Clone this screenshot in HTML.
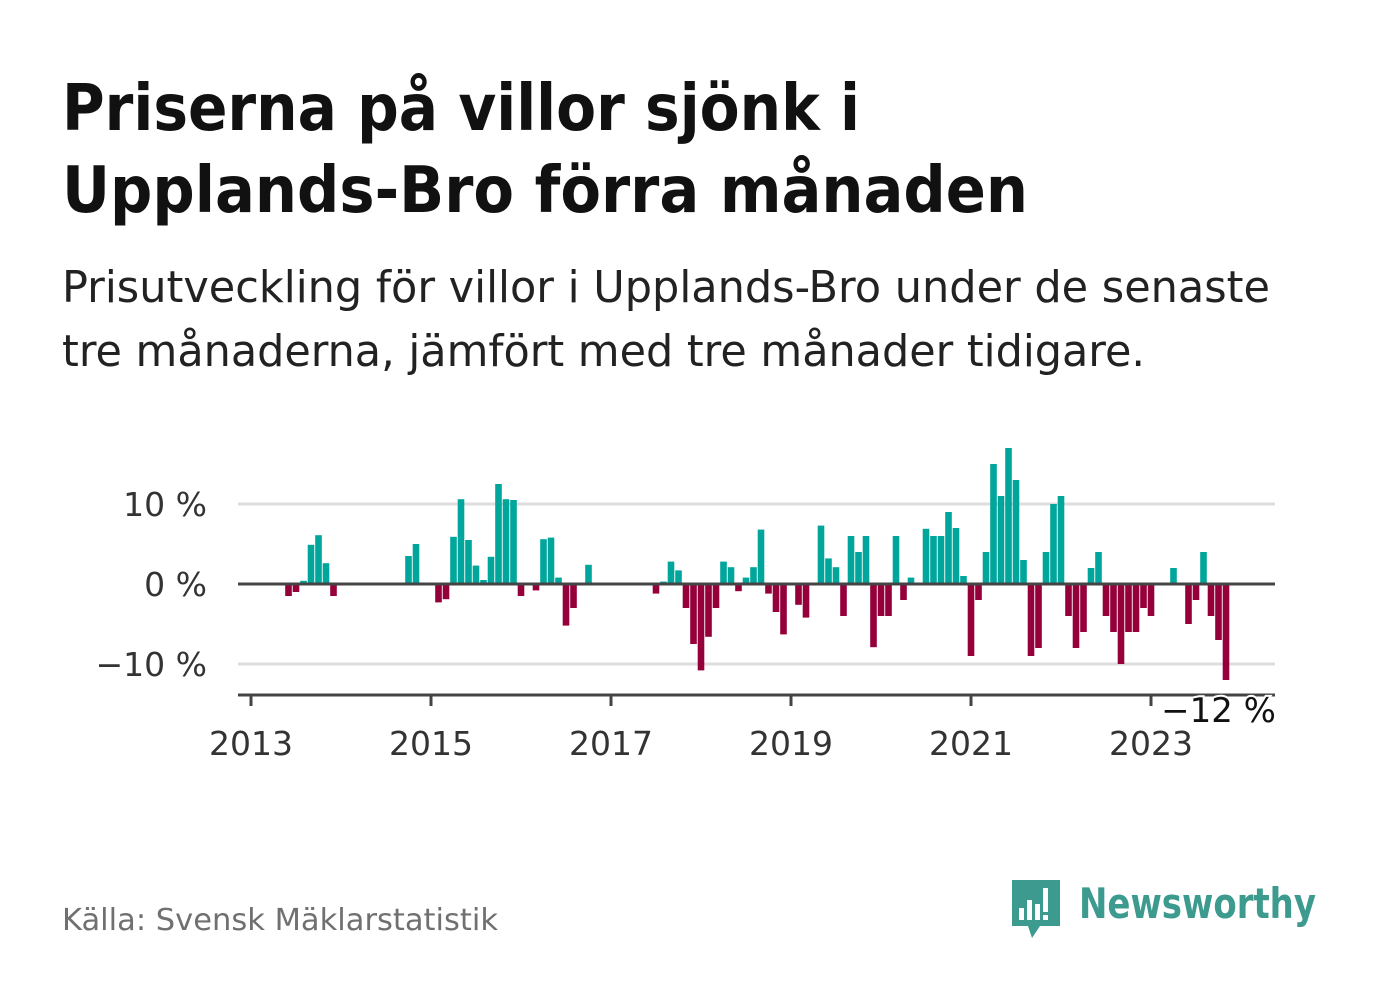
<!DOCTYPE html>
<html><head><meta charset="utf-8"><style>
html,body{margin:0;padding:0;background:#fff}
svg{display:block}
text{font-family:"DejaVu Sans","Liberation Sans",sans-serif}
</style></head><body>
<svg id="chart" width="1382" height="999" viewBox="0 0 1382 999" xmlns="http://www.w3.org/2000/svg">
<text x="62" y="130" font-size="64" font-weight="bold" fill="#111" textLength="798" lengthAdjust="spacingAndGlyphs">Priserna på villor sjönk i</text>
<text x="62" y="212" font-size="64" font-weight="bold" fill="#111" textLength="966" lengthAdjust="spacingAndGlyphs">Upplands-Bro förra månaden</text>
<text x="62" y="302" font-size="44" fill="#222" textLength="1208" lengthAdjust="spacingAndGlyphs">Prisutveckling för villor i Upplands-Bro under de senaste</text>
<text x="62" y="366" font-size="44" fill="#222" textLength="1083" lengthAdjust="spacingAndGlyphs">tre månaderna, jämfört med tre månader tidigare.</text>
<g id="plot"></g>
<text x="62" y="930" font-size="30" fill="#707070" textLength="436" lengthAdjust="spacingAndGlyphs">Källa: Svensk Mäklarstatistik</text>
<g>
<path d="M1012 880 H1060 V926 H1040 L1032 938 L1028 926 H1012 Z" fill="#3d9a8e"/>
<rect x="1019" y="908" width="5" height="12" fill="#fff"/><rect x="1027" y="900" width="5" height="20" fill="#fff"/><rect x="1035" y="904" width="5" height="16" fill="#fff"/><rect x="1043" y="888" width="5" height="24" fill="#fff"/><rect x="1043" y="915" width="5" height="5" fill="#fff"/>
<text x="1079" y="918" font-size="42" font-weight="bold" fill="#3d9a8e" textLength="237" lengthAdjust="spacingAndGlyphs">Newsworthy</text>
</g>
</svg>
<script>
const months=[5,6,7,8,9,10,11,21,22,25,26,27,28,29,30,31,32,33,34,35,36,38,39,40,41,42,43,45,54,55,56,57,58,59,60,61,62,63,64,65,66,67,68,69,70,71,73,74,76,77,78,79,80,81,82,83,84,85,86,87,88,90,91,92,93,94,95,96,97,98,99,100,101,102,103,104,105,106,107,108,109,110,111,112,113,114,115,116,117,118,119,120,123,125,126,127,128,129,130];
const values=[-1.5,-1.0,0.4,4.9,6.1,2.6,-1.5,3.5,5.0,-2.3,-1.9,5.9,10.6,5.5,2.3,0.5,3.4,12.5,10.6,10.5,-1.5,-0.8,5.6,5.8,0.8,-5.2,-3.0,2.4,-1.2,0.3,2.8,1.7,-3.0,-7.5,-10.8,-6.6,-3.0,2.8,2.1,-0.9,0.8,2.1,6.8,-1.2,-3.5,-6.3,-2.6,-4.2,7.3,3.2,2.1,-4.0,6.0,4.0,6.0,-7.9,-4.0,-4.0,6.0,-2.0,0.8,6.9,6.0,6.0,9.0,7.0,1.0,-9.0,-2.0,4.0,15.0,11.0,17.0,13.0,3.0,-9.0,-8.0,4.0,10.0,11.0,-4.0,-8.0,-6.0,2.0,4.0,-4.0,-6.0,-10.0,-6.0,-6.0,-3.0,-4.0,2.0,-5.0,-2.0,4.0,-4.0,-7.0,-12.0];
const yTicks=[10,0,-10];
const yTickLabels=["10 %","0 %","\u221210 %"];
const xYears=[2013,2015,2017,2019,2021,2023];
const NS="http://www.w3.org/2000/svg";
const g=document.getElementById('plot');
const xScale=m=>251+7.5*m;
const yScale=v=>584-8*v;
function mk(t,a){const e=document.createElementNS(NS,t);for(const k in a)e.setAttribute(k,a[k]);g.appendChild(e);return e;}
yTicks.forEach((v,i)=>{
  if(v!==0){const l=mk('line',{x1:238,x2:1275,y1:yScale(v),y2:yScale(v),stroke:'#dedede','stroke-width':3});
  
  }
  const t=mk('text',{x:207,y:yScale(v)+12,'font-size':33,fill:'#333','text-anchor':'end'});
  t.textContent=yTickLabels[i];
  
  
});
months.forEach((m,i)=>{
  const v=values[i];const y0=yScale(0),y1=yScale(v);
  const r=mk('rect',{x:xScale(m)-3.3,width:6.6,y:Math.min(y0,y1),height:Math.abs(y1-y0),fill:v>=0?'#00a59b':'#95003b'});
  
  
});
const z=mk('line',{x1:238,x2:1275,y1:yScale(0),y2:yScale(0),stroke:'#444','stroke-width':3});


const ax=mk('line',{x1:238,x2:1275,y1:695,y2:695,stroke:'#444','stroke-width':3});


xYears.forEach(yr=>{
  const x=xScale((yr-2013)*12);
  const tk=mk('line',{x1:x,x2:x,y1:695,y2:706,stroke:'#444','stroke-width':3});
  
  
  const t=mk('text',{x:x,y:755,'font-size':33,fill:'#333','text-anchor':'middle'});
  t.textContent=yr;
  
  
});
const last=values[values.length-1];
const lb=mk('text',{x:1276,y:722,'font-size':34,fill:'#111','text-anchor':'end',stroke:'#fff','stroke-width':4,'paint-order':'stroke'});
lb.textContent=(last<0?'\u2212':'')+Math.abs(Math.round(last))+' %';


</script>
</body></html>
